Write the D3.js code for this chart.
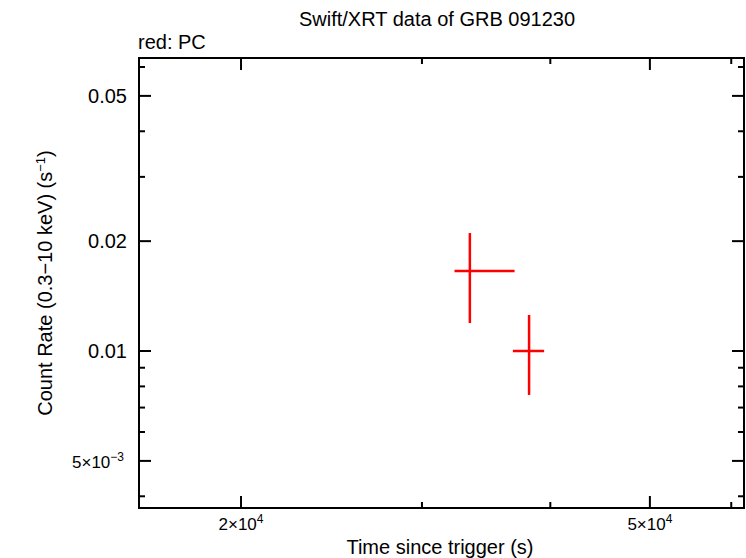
<!DOCTYPE html><html><head><script src="https://d3js.org/d3.v7.min.js"></script>
<style>body{margin:0;background:#fff}text{font-family:"Liberation Sans",Arial,sans-serif}</style></head><body>
<svg id="c" width="746" height="558"></svg>
<script>
const tMid=[33400,38140], tLo=[32270,36780], tHi=[36920,39450];
const rate=[0.01656,0.0100], rLo=[0.01193,0.00758], rHi=[0.02105,0.01255];
const xTickVals=[2e4,5e4], xTickLabels=["2×10","5×10"];
const yTickVals=[0.05,0.02,0.01,0.005], yTickLabels=["0.05","0.02","0.01","5×10"];
const svg=d3.select("#c");
const L=139,R=744,T=58,B=508;
const x=d3.scaleLog().domain([15912,61740]).range([L,R]);
const y=d3.scaleLog().domain([0.003715,0.0635]).range([B,T]);
svg.append("rect").attr("x",L).attr("y",T).attr("width",R-L).attr("height",B-T).attr("fill","none").attr("stroke","#000").attr("stroke-width",2);
const xMinor=[];for(let d=1e4;d<1e5;d*=10)for(let k=1;k<10;k++){const v=k*d;if(v>15912&&v<61740)xMinor.push(v);}
const yMinor=[];for(let d=1e-3;d<0.1;d*=10)for(let k=1;k<10;k++){const v=k*d;if(v>0.003715&&v<0.0635)yMinor.push(v);}
xMinor.forEach(v=>{const big=xTickVals.includes(v);const l=big?12:6;
 svg.append("line").attr("x1",x(v)).attr("x2",x(v)).attr("y1",B).attr("y2",B-l).attr("stroke","#000").attr("stroke-width",2);
 svg.append("line").attr("x1",x(v)).attr("x2",x(v)).attr("y1",T).attr("y2",T+l).attr("stroke","#000").attr("stroke-width",2);});
yMinor.forEach(v=>{const big=yTickVals.some(t=>Math.abs(t-v)<1e-9);const l=big?12:6;
 svg.append("line").attr("y1",y(v)).attr("y2",y(v)).attr("x1",L).attr("x2",L+l).attr("stroke","#000").attr("stroke-width",2);
 svg.append("line").attr("y1",y(v)).attr("y2",y(v)).attr("x1",R).attr("x2",R-l).attr("stroke","#000").attr("stroke-width",2);});
xTickVals.forEach((v,i)=>{const t=svg.append("text").attr("x",x(v)).attr("y",530).attr("text-anchor","middle").attr("font-size",17);
 t.append("tspan").text(xTickLabels[i]);t.append("tspan").attr("dy",-7).attr("font-size",12).text("4");});
yTickVals.forEach((v,i)=>{const t=svg.append("text").attr("x",i==3?124:127).attr("y",y(v)+7).attr("text-anchor","end").attr("font-size",i==3?17:20);
 t.append("tspan").text(yTickLabels[i]);if(i==3)t.append("tspan").attr("dy",-7).attr("font-size",12).text("−3");});
svg.append("text").attr("x",437).attr("y",26).attr("text-anchor","middle").attr("font-size",20).text("Swift/XRT data of GRB 091230");
svg.append("text").attr("x",138).attr("y",49).attr("font-size",20).text("red: PC");
svg.append("text").attr("x",440).attr("y",554).attr("text-anchor","middle").attr("font-size",20).text("Time since trigger (s)");
const yl=svg.append("text").attr("transform","translate(52,283) rotate(-90)").attr("text-anchor","middle").attr("font-size",20);
yl.append("tspan").text("Count Rate (0.3−10 keV) (s");yl.append("tspan").attr("dy",-7).attr("font-size",13).text("−1");yl.append("tspan").attr("dy",7).text(")");
rate.forEach((r,i)=>{
 svg.append("line").attr("x1",x(tLo[i])).attr("x2",x(tHi[i])).attr("y1",y(r)).attr("y2",y(r)).attr("stroke","#f00").attr("stroke-width",2.5);
 svg.append("line").attr("x1",x(tMid[i])).attr("x2",x(tMid[i])).attr("y1",y(rLo[i])).attr("y2",y(rHi[i])).attr("stroke","#f00").attr("stroke-width",2.5);});
</script></body></html>
